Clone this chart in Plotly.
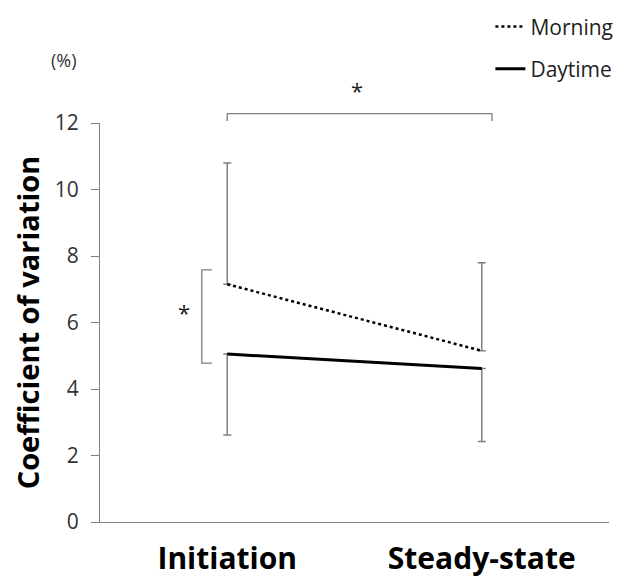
import plotly.graph_objects as go

categories = ["Initiation", "Steady-state"]
morning = [7.15, 5.15]
daytime = [5.05, 4.62]
morning_sd_up = [3.65, 2.65]
daytime_sd_down = [2.43, 2.2]
y_ticks = [0, 2, 4, 6, 8, 10, 12]
y_max = 12

font_main = "Open Sans, Noto Sans, sans-serif"

fig = go.Figure()
fig.add_trace(go.Scatter(
    x=categories, y=morning, name="Morning", mode="lines",
    line=dict(color="black", width=2.5, dash="dot"),
    error_y=dict(type="data", symmetric=False, array=morning_sd_up,
                 arrayminus=[0, 0], color="#7f7f7f", thickness=1.5, width=4),
    legendgroup="m",
))
fig.add_trace(go.Scatter(
    x=categories, y=daytime, name="Daytime", mode="lines",
    line=dict(color="black", width=3),
    error_y=dict(type="data", symmetric=False, array=[0, 0],
                 arrayminus=daytime_sd_down, color="#7f7f7f", thickness=1.5, width=4),
    legendgroup="d",
))

# significance brackets (domain coordinates)
top_br = 12.28 / y_max
top_tick = 12.06 / y_max
x0d, x1d = 0.25, 0.77
br_color = "#7f7f7f"
shapes = [
    dict(type="path", xref="x domain", yref="y domain",
         path=f"M {x0d},{top_tick} L {x0d},{top_br} L {x1d},{top_br} L {x1d},{top_tick}",
         line=dict(color=br_color, width=1.3)),
]
lb_x = 0.2, 0.22
lb_lo = 4.78 / y_max
lb_hi = 7.58 / y_max
shapes.append(dict(type="path", xref="x domain", yref="y domain",
                   path=f"M {lb_x[1]},{lb_hi} L {lb_x[0]},{lb_hi} L {lb_x[0]},{lb_lo} L {lb_x[1]},{lb_lo}",
                   line=dict(color=br_color, width=1.3)))

annotations = [
    dict(text="*", xref="x domain", yref="y domain", x=0.505, y=13.5 / y_max,
         showarrow=False, font=dict(size=22, color="#222", family=font_main)),
    dict(text="*", xref="x domain", yref="y domain", x=0.149, y=6.32 / y_max,
         showarrow=False, font=dict(size=22, color="#222", family=font_main)),
    dict(text="(%)", xref="paper", yref="paper", x=-0.0707, y=1.157,
         xanchor="center", yanchor="middle",
         showarrow=False, font=dict(size=18, color="#333", family=font_main)),
]

fig.update_layout(
    width=624, height=580,
    margin=dict(l=92, r=23, t=115, b=66, autoexpand=False),
    paper_bgcolor="white", plot_bgcolor="white",
    showlegend=True,
    legend=dict(x=0.767, y=1.2925, xanchor="left", yanchor="top",
                font=dict(size=21, color="#222", family=font_main),
                tracegroupgap=12, bgcolor="rgba(0,0,0,0)"),
    shapes=shapes, annotations=annotations,
    xaxis=dict(type="category", range=[-0.5, 1.5], showline=True, automargin=False,
               linecolor="#7f7f7f", linewidth=1.3, ticks="", ticklabelstandoff=10,
               tickfont=dict(size=30, color="black", family="Open Sans, sans-serif", weight="bold"),
               showgrid=False, zeroline=False),
    yaxis=dict(range=[0, y_max], tickvals=y_ticks, showline=True, automargin=False,
               linecolor="#7f7f7f", linewidth=1.3, ticks="outside", ticklen=8,
               tickcolor="#7f7f7f", ticklabelstandoff=8,
               tickfont=dict(size=21, color="#333", family=font_main),
               showgrid=False, zeroline=False,
               title=dict(text="Coefficient of variation", standoff=8,
                          font=dict(size=29, color="black", family="Open Sans, sans-serif", weight="bold"))),
)

fig.write_html("out.html")
